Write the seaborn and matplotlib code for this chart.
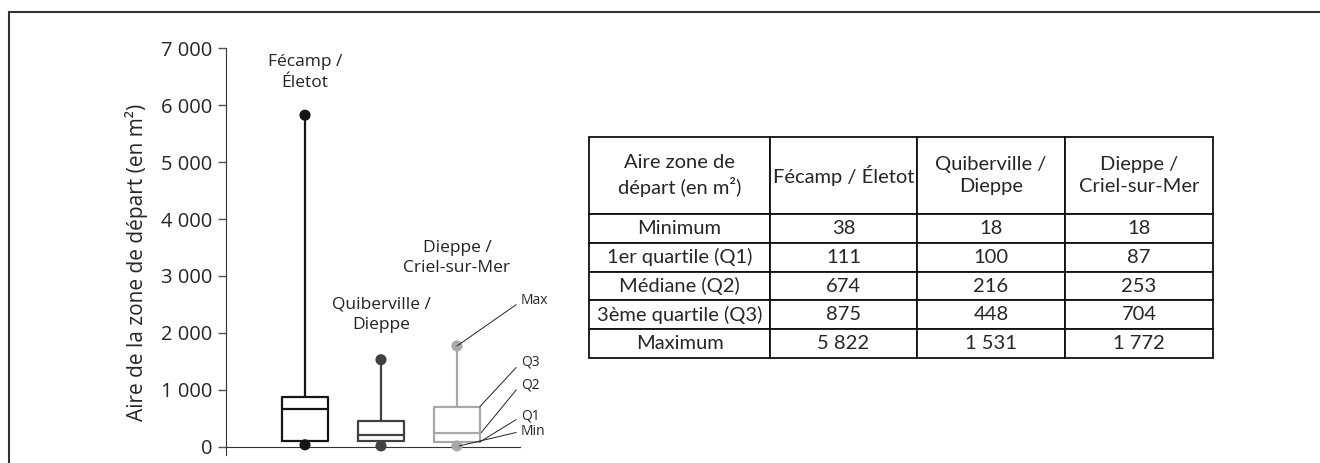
import numpy as np
import pandas as pd
import matplotlib
matplotlib.use("Agg")
import matplotlib.pyplot as plt
from matplotlib.lines import Line2D
from matplotlib.ticker import FuncFormatter
import seaborn as sns

sites = ["Fécamp / Életot", "Quiberville / Dieppe", "Dieppe / Criel-sur-Mer"]
etiquettes_groupes = ["Fécamp /\nÉletot", "Quiberville /\nDieppe", "Dieppe /\nCriel-sur-Mer"]
minimum = [38, 18, 18]
q1 = [111, 100, 87]
mediane = [674, 216, 253]
q3 = [875, 448, 704]
maximum = [5822, 1531, 1772]

entetes = ["Aire zone de\ndépart (en m²)", "Fécamp / Életot", "Quiberville /\nDieppe", "Dieppe /\nCriel-sur-Mer"]
lignes_tableau = ["Minimum", "1er quartile (Q1)", "Médiane (Q2)", "3ème quartile (Q3)", "Maximum"]
graduations_y = [0, 1000, 2000, 3000, 4000, 5000, 6000, 7000]

couleurs = {"Fécamp / Életot": "#151515", "Quiberville / Dieppe": "#404040",
            "Dieppe / Criel-sur-Mer": "#a8a8a8"}

sns.set_style("white")
plt.rcParams["font.family"] = ["Open Sans", "DejaVu Sans"]

# Tableau long : 5 valeurs par site -> quartiles exacts avec whis=(0, 100)
df = pd.DataFrame({
    "site": [s for s in sites for _ in range(5)],
    "aire": [v for i in range(3) for v in (minimum[i], q1[i], mediane[i], q3[i], maximum[i])],
})
df_points = pd.DataFrame({"site": sites + sites, "aire": minimum + maximum})

fig = plt.figure(figsize=(13.2, 4.63), dpi=100)

# Cadre (gauche + haut)
fig.add_artist(Line2D([9 / 1320, 9 / 1320], [0, 1 - 12 / 463], color="#333333", lw=1.5))
fig.add_artist(Line2D([9 / 1320, 1], [1 - 12 / 463, 1 - 12 / 463], color="#333333", lw=1.5))

# --- Boîtes à moustaches ---
ax = fig.add_axes([226 / 1320, 0.0162, (520 - 226) / 1320, 0.88])
sns.boxplot(data=df, x="site", y="aire", hue="site", palette=couleurs, fill=False,
            whis=(0, 100), width=0.6, linewidth=1.6, showcaps=False, legend=False, ax=ax)
sns.stripplot(data=df_points, x="site", y="aire", hue="site", palette=couleurs,
              jitter=False, size=8, legend=False, zorder=5, ax=ax)

ax.set_xlim(-1.04, 2.83)
ax.set_ylim(-150, 7000)
ax.set_yticks(graduations_y)
ax.yaxis.set_major_formatter(FuncFormatter(lambda v, p: f"{v:,.0f}".replace(",", " ")))
ax.tick_params(axis="y", direction="out", length=6, width=1, color="#555555",
               labelsize=14.5, pad=4, left=True)
ax.set_xticks([])
ax.set_xlabel("")
ax.set_ylabel("Aire de la zone de départ (en m²)", fontsize=15)
ax.yaxis.set_label_coords(-0.265, 0.475)
for cote in ["top", "right"]:
    ax.spines[cote].set_visible(False)
ax.spines["bottom"].set_position(("data", 0))
ax.spines["left"].set_color("#333333")
ax.spines["bottom"].set_color("#333333")

# Noms des sites au-dessus des boîtes
positions_noms = [6570, 2320, 3310]
for i, txt in enumerate(etiquettes_groupes):
    ax.text(i, positions_noms[i], txt, ha="center", va="center", fontsize=12.5,
            linespacing=1.35, color="#222222")

# Légende Max / Q3 / Q2 / Q1 / Min
reperes = [("Max", 2570, 2497, 1772, 2.0), ("Q3", 1490, 1395, q3[2], 2.30),
           ("Q2", 1085, 1000, mediane[2], 2.32), ("Q1", 537, 480, q1[2], 2.30),
           ("Min", 277, 254, minimum[2], 2.03)]
for nom, y_txt, y_deb, y_fin, x_fin in reperes:
    ax.text(2.84, y_txt, nom, ha="left", va="center", fontsize=10, clip_on=False)
    ax.plot([2.78, x_fin], [y_deb, y_fin], color="#222222", lw=0.7, clip_on=False, zorder=6)

# --- Tableau ---
axt = fig.add_axes([589 / 1320, 1 - 358 / 463, 624 / 1320, 221 / 463])
axt.axis("off")
cellules = [entetes] + [[lignes_tableau[0]] + [str(v) for v in minimum],
                        [lignes_tableau[1]] + [str(v) for v in q1],
                        [lignes_tableau[2]] + [str(v) for v in mediane],
                        [lignes_tableau[3]] + [str(v) for v in q3],
                        [lignes_tableau[4]] + [f"{v:,}".replace(",", " ") for v in maximum]]
table = axt.table(cellText=cellules, cellLoc="center", bbox=[0, 0, 1, 1])
table.auto_set_font_size(False)
largeurs = [181, 147, 148, 148]
for (r, c), cell in table.get_celld().items():
    cell.set_width(largeurs[c])
    cell.set_height(77 if r == 0 else 28.8)
    cell.set_linewidth(1.3)
    cell.set_edgecolor("#111111")
    cell.get_text().set_fontsize(14.5)
    cell.get_text().set_fontfamily(["Lato", "DejaVu Sans"])
    cell.get_text().set_linespacing(1.35)

fig.savefig("out.png", dpi=100)
